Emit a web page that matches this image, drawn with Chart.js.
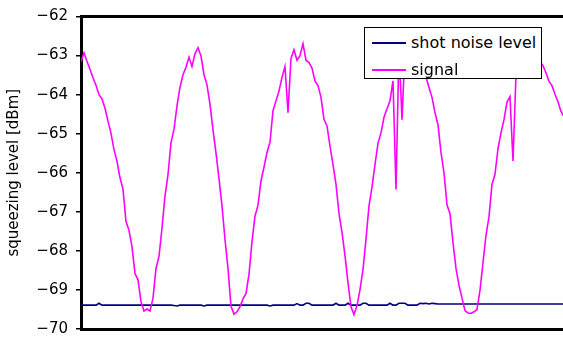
<!DOCTYPE html>
<html>
<head>
<meta charset="utf-8">
<script src="https://cdn.jsdelivr.net/npm/chart.js@4/dist/chart.umd.min.js"></script>
<style>
    html, body { margin: 0; padding: 0; background: #fff; }
    #wrap { position: relative; width: 563px; height: 338px; }
    #legend {
        position: absolute; left: 364px; top: 27px; width: 176px; height: 50px;
        background: #fff; border: 1.5px solid #000;
        font-family: "DejaVu Sans", sans-serif; font-size: 16px; color: #000;
    }
    #legend .row { position: absolute; left: 0; height: 20px; line-height: 20px; }
    #legend .sw { position: absolute; left: 7px; top: 9px; width: 34px; height: 2px; }
    #legend .lbl { position: absolute; left: 46px; top: 0; white-space: nowrap; }
</style>
</head>
<body>
<div id="wrap">
    <canvas id="chart" width="563" height="338"></canvas>
    <div id="legend"></div>
</div>
<script>
    // samples taken every 3 px of the trace, left to right
    const signal = [
        -63.15, -62.93, -63.15, -63.35, -63.57, -63.76, -64.00, -64.11, -64.35, -64.68,
        -64.99, -65.41, -65.71, -66.13, -66.42, -67.25, -67.47, -67.90, -68.58, -68.74,
        -69.30, -69.54, -69.49, -69.54, -69.21, -68.45, -68.14, -67.42, -66.59, -66.05,
        -65.23, -64.89, -64.29, -63.81, -63.49, -63.30, -63.04, -63.28, -62.95, -62.80,
        -63.01, -63.49, -63.75, -64.25, -64.90, -65.50, -66.15, -66.85, -67.71, -68.45,
        -69.42, -69.62, -69.56, -69.43, -69.23, -69.09, -68.60, -67.76, -67.11, -66.83,
        -66.21, -65.86, -65.48, -65.22, -64.41, -64.16, -63.91, -63.56, -63.28, -64.46,
        -63.07, -62.85, -63.12, -63.00, -62.70, -63.12, -63.18, -63.32, -63.65, -63.77,
        -64.07, -64.63, -64.80, -65.32, -65.79, -66.30, -67.04, -67.53, -68.12, -68.82,
        -69.43, -69.63, -69.40, -68.99, -68.48, -67.70, -66.85, -66.37, -65.79, -65.24,
        -64.98, -64.58, -64.36, -64.16, -63.65, -66.43, -62.80, -64.64, -62.85, -62.75,
        -62.80, -62.90, -63.00, -63.15, -63.30, -63.55, -63.82, -64.07, -64.46, -64.77,
        -65.48, -66.00, -66.82, -67.05, -67.79, -68.45, -68.88, -69.21, -69.53, -69.59,
        -69.60, -69.56, -69.50, -69.01, -68.30, -67.60, -67.13, -66.30, -66.04, -65.38,
        -64.98, -64.64, -64.19, -64.05, -65.70, -63.50, -63.20, -63.00, -62.85, -62.80,
        -62.85, -62.95, -63.05, -63.15, -63.26, -63.44, -63.66, -63.77, -63.99, -64.18,
        -64.43, -64.56
    ];

    const shotNoise = [
        -69.39, -69.39, -69.39, -69.39, -69.39, -69.39, -69.34, -69.39, -69.39, -69.39,
        -69.39, -69.39, -69.39, -69.39, -69.39, -69.39, -69.39, -69.39, -69.39, -69.39,
        -69.39, -69.39, -69.39, -69.39, -69.39, -69.39, -69.39, -69.39, -69.39, -69.39,
        -69.39, -69.40, -69.41, -69.39, -69.39, -69.39, -69.39, -69.39, -69.39, -69.39,
        -69.39, -69.41, -69.39, -69.39, -69.39, -69.39, -69.39, -69.39, -69.39, -69.39,
        -69.39, -69.39, -69.39, -69.39, -69.39, -69.39, -69.39, -69.39, -69.39, -69.39,
        -69.39, -69.39, -69.39, -69.41, -69.39, -69.39, -69.39, -69.39, -69.39, -69.39,
        -69.39, -69.39, -69.35, -69.39, -69.39, -69.34, -69.34, -69.39, -69.39, -69.39,
        -69.39, -69.39, -69.39, -69.39, -69.39, -69.34, -69.39, -69.39, -69.39, -69.34,
        -69.39, -69.39, -69.39, -69.39, -69.34, -69.34, -69.39, -69.39, -69.39, -69.39,
        -69.39, -69.39, -69.39, -69.34, -69.39, -69.39, -69.34, -69.34, -69.34, -69.39,
        -69.39, -69.39, -69.39, -69.34, -69.35, -69.34, -69.36, -69.34, -69.35, -69.36,
        -69.36, -69.36, -69.36, -69.36, -69.36, -69.36, -69.36, -69.36, -69.36, -69.36,
        -69.36, -69.36, -69.36, -69.36, -69.36, -69.36, -69.36, -69.36, -69.36, -69.36,
        -69.36, -69.36, -69.36, -69.36, -69.36, -69.36, -69.36, -69.36, -69.36, -69.36,
        -69.36, -69.36, -69.36, -69.36, -69.36, -69.36, -69.36, -69.36, -69.36, -69.36,
        -69.36, -69.36
    ];

    const seriesNames = ['shot noise level', 'signal'];
    const seriesColors = ['#000080', '#ff00ff'];
    const yTitle = 'squeezing level [dBm]';
    const yMin = -70;
    const yMax = -62;

    function toPoints(arr) {
        return arr.map(function (v, i) {
            return { x: i, y: v };
        });
    }

    const fontFamily = '"DejaVu Sans", sans-serif';

    new Chart(document.getElementById('chart'), {
        type: 'line',
        data: {
            datasets: [
                {
                    label: seriesNames[1],
                    data: toPoints(signal),
                    borderColor: seriesColors[1],
                    borderWidth: 1.6,
                    pointRadius: 0,
                    order: 0,
                },
                {
                    label: seriesNames[0],
                    data: toPoints(shotNoise),
                    borderColor: seriesColors[0],
                    borderWidth: 1.6,
                    pointRadius: 0,
                    order: 1,
                },
            ],
        },
        options: {
            responsive: false,
            animation: false,
            devicePixelRatio: 1,
            layout: { padding: 0 },
            plugins: { legend: { display: false }, tooltip: { enabled: false } },
            scales: {
                x: {
                    type: 'linear',
                    min: 0,
                    max: 160.67,
                    ticks: { display: false },
                    grid: { display: false },
                    border: { display: true, color: '#000', width: 3 },
                    afterFit: function (s) { s.height = 9; },
                },
                x2: {
                    type: 'linear',
                    position: 'top',
                    min: 0,
                    max: 1,
                    ticks: { display: false },
                    grid: { display: false },
                    border: { display: true, color: '#000', width: 3 },
                    afterFit: function (s) { s.height = 16.5; },
                },
                y: {
                    min: yMin,
                    max: yMax,
                    ticks: {
                        stepSize: 1,
                        padding: 8,
                        color: '#000',
                        font: { family: fontFamily, size: 15 },
                        callback: function (v) {
                            return String(v).replace('-', '\u2212');
                        },
                    },
                    grid: {
                        display: true,
                        drawOnChartArea: false,
                        drawTicks: true,
                        tickLength: 5,
                        tickColor: '#000',
                        lineWidth: 1.5,
                    },
                    border: { display: true, color: '#000', width: 3 },
                    title: {
                        display: true,
                        text: yTitle,
                        color: '#000',
                        font: { family: fontFamily, size: 15 },
                        padding: { top: 5, bottom: 0 },
                    },
                    afterFit: function (s) {
                        s.width = 81;
                        // the end labels may overhang the plot; don't let them shrink it
                        s.paddingTop = 0;
                        s.paddingBottom = 0;
                    },
                },
            },
        },
    });

    // legend box laid over the plot, as in the source figure
    const legendEl = document.getElementById('legend');
    seriesNames.forEach(function (name, i) {
        const row = document.createElement('div');
        row.className = 'row';
        row.style.top = (5 + i * 27) + 'px';
        row.style.width = '100%';
        row.innerHTML = '<span class="sw" style="background:' + seriesColors[i] + '"></span>' +
            '<span class="lbl">' + name + '</span>';
        legendEl.appendChild(row);
    });
</script>
</body>
</html>
